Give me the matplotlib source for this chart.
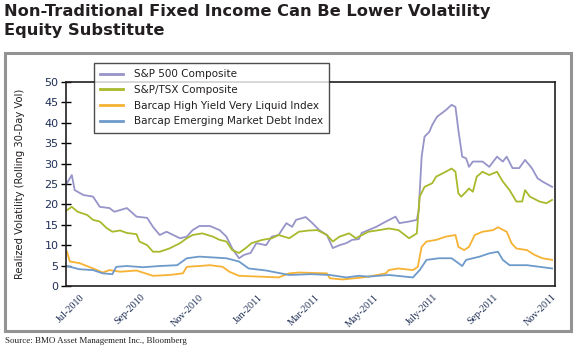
import matplotlib
matplotlib.use("Agg")
import matplotlib.pyplot as plt
import matplotlib.patches as mpatches
import numpy as np

title = "Non-Traditional Fixed Income Can Be Lower Volatility\nEquity Substitute"
ylabel = "Realized Volatility (Rolling 30-Day Vol)"
source = "Source: BMO Asset Management Inc., Bloomberg"
series_names = ["S&P 500 Composite", "S&P/TSX Composite",
                "Barcap High Yield Very Liquid Index", "Barcap Emerging Market Debt Index"]
tick_dates = ["2010-07-01", "2010-09-01", "2010-11-01", "2011-01-01", "2011-03-01",
              "2011-05-01", "2011-07-01", "2011-09-01", "2011-11-01"]
tick_labels = ["Jul-2010", "Sep-2010", "Nov-2010", "Jan-2011", "Mar-2011",
               "May-2011", "July-2011", "Sep-2011", "Nov-2011"]

sp500_dates = ["2010-06-14", "2010-06-19", "2010-06-22", "2010-07-01", "2010-07-11", "2010-07-18",
               "2010-07-28", "2010-08-02", "2010-08-15", "2010-08-25", "2010-09-05", "2010-09-11",
               "2010-09-18", "2010-09-25", "2010-10-02", "2010-10-09", "2010-10-16", "2010-10-22",
               "2010-10-29", "2010-11-09", "2010-11-19", "2010-11-26", "2010-12-02", "2010-12-09",
               "2010-12-14", "2010-12-21", "2010-12-27", "2011-01-06", "2011-01-12", "2011-01-19",
               "2011-01-27", "2011-02-02", "2011-02-06", "2011-02-16", "2011-02-23", "2011-03-02",
               "2011-03-10", "2011-03-16", "2011-03-23", "2011-03-30", "2011-04-05", "2011-04-12",
               "2011-04-15", "2011-04-30", "2011-05-10", "2011-05-20", "2011-05-24", "2011-06-03",
               "2011-06-11", "2011-06-13", "2011-06-16", "2011-06-19", "2011-06-24", "2011-06-27",
               "2011-07-02", "2011-07-11", "2011-07-17", "2011-07-21", "2011-07-24", "2011-07-28",
               "2011-08-01", "2011-08-04", "2011-08-08", "2011-08-18", "2011-08-25", "2011-09-02",
               "2011-09-08", "2011-09-12", "2011-09-18", "2011-09-25", "2011-10-01", "2011-10-08",
               "2011-10-14", "2011-10-19", "2011-10-29"]
sp500_vals = [25.2, 27.2, 23.5, 22.3, 21.9, 19.4, 19.1, 18.2, 19.1, 17.0, 16.7, 14.5,
              12.5, 13.3, 12.5, 11.7, 12.1, 13.7, 14.7, 14.7, 13.7, 12.1, 9.2, 6.8,
              7.6, 8.1, 10.5, 10.0, 12.1, 12.5, 15.4, 14.5, 16.2, 16.9, 15.4, 13.7,
              12.5, 9.3, 10.0, 10.5, 11.3, 11.5, 13.0, 14.5, 15.8, 17.0, 15.4, 15.8,
              16.2, 18.6, 31.7, 36.6, 37.8, 39.5, 41.5, 43.1, 44.4, 43.9, 38.2, 31.7,
              31.3, 29.2, 30.5, 30.5, 29.2, 31.7, 30.5, 31.7, 28.9, 28.9, 30.9, 28.9,
              26.4, 25.6, 24.3]

tsx_dates = ["2010-06-14", "2010-06-19", "2010-06-25", "2010-07-05", "2010-07-11", "2010-07-18",
             "2010-07-25", "2010-07-31", "2010-08-08", "2010-08-15", "2010-08-25", "2010-08-28",
             "2010-09-05", "2010-09-11", "2010-09-18", "2010-09-28", "2010-10-09", "2010-10-16",
             "2010-10-22", "2010-11-01", "2010-11-12", "2010-11-19", "2010-11-26", "2010-12-02",
             "2010-12-09", "2010-12-16", "2010-12-22", "2011-01-02", "2011-01-12", "2011-01-19",
             "2011-01-30", "2011-02-09", "2011-02-19", "2011-02-28", "2011-03-10", "2011-03-16",
             "2011-03-23", "2011-04-02", "2011-04-09", "2011-04-12", "2011-04-22", "2011-05-03",
             "2011-05-13", "2011-05-23", "2011-06-03", "2011-06-11", "2011-06-14", "2011-06-19",
             "2011-06-27", "2011-07-01", "2011-07-11", "2011-07-17", "2011-07-21", "2011-07-24",
             "2011-07-27", "2011-08-01", "2011-08-04", "2011-08-08", "2011-08-12", "2011-08-18",
             "2011-08-25", "2011-09-02", "2011-09-08", "2011-09-15", "2011-09-22", "2011-09-28",
             "2011-10-01", "2011-10-06", "2011-10-16", "2011-10-23", "2011-10-29"]
tsx_vals = [18.6, 19.4, 18.2, 17.4, 16.2, 15.8, 14.2, 13.3, 13.6, 13.0, 12.7, 10.9,
            10.0, 8.4, 8.4, 9.2, 10.5, 11.7, 12.5, 12.9, 12.1, 11.3, 10.9, 8.8,
            8.1, 9.3, 10.5, 11.3, 11.7, 12.5, 11.7, 13.3, 13.6, 13.7, 12.5, 10.9,
            12.1, 12.9, 11.7, 12.1, 13.3, 13.7, 14.1, 13.7, 11.7, 12.9, 21.9, 24.3,
            25.2, 26.8, 28.0, 28.8, 28.0, 22.7, 21.9, 23.1, 23.9, 23.1, 26.8, 28.0,
            27.2, 28.0, 25.6, 23.5, 20.7, 20.7, 23.5, 21.9, 20.7, 20.3, 21.1]

hy_dates = ["2010-06-14", "2010-06-17", "2010-06-27", "2010-07-11", "2010-07-21", "2010-07-28",
            "2010-08-08", "2010-08-25", "2010-09-11", "2010-09-28", "2010-10-12", "2010-10-16",
            "2010-10-29", "2010-11-09", "2010-11-22", "2010-11-29", "2010-12-09", "2010-12-30",
            "2011-01-19", "2011-01-30", "2011-02-09", "2011-03-10", "2011-03-13", "2011-03-26",
            "2011-04-12", "2011-04-22", "2011-05-10", "2011-05-13", "2011-05-23", "2011-06-07",
            "2011-06-12", "2011-06-16", "2011-06-21", "2011-07-01", "2011-07-11", "2011-07-21",
            "2011-07-24", "2011-07-30", "2011-08-04", "2011-08-10", "2011-08-18", "2011-08-29",
            "2011-09-03", "2011-09-12", "2011-09-17", "2011-09-22", "2011-10-03", "2011-10-11",
            "2011-10-19", "2011-10-29"]
hy_vals = [8.4, 6.0, 5.6, 4.3, 3.3, 3.9, 3.5, 3.8, 2.5, 2.7, 3.1, 4.7,
           4.9, 5.1, 4.7, 3.5, 2.5, 2.3, 2.1, 3.1, 3.3, 3.1, 1.9, 1.6,
           2.0, 2.3, 3.1, 3.9, 4.3, 3.9, 4.7, 9.6, 10.9, 11.3, 12.1, 12.5,
           9.6, 8.8, 9.6, 12.5, 13.3, 13.7, 14.4, 13.3, 10.5, 9.2, 8.8, 7.6,
           6.8, 6.4]

em_dates = ["2010-06-14", "2010-06-27", "2010-07-11", "2010-07-21", "2010-07-31", "2010-08-04",
            "2010-08-15", "2010-09-01", "2010-09-18", "2010-10-06", "2010-10-16", "2010-10-29",
            "2010-11-12", "2010-11-26", "2010-12-09", "2010-12-19", "2011-01-06", "2011-01-30",
            "2011-02-22", "2011-03-13", "2011-03-30", "2011-04-12", "2011-04-22", "2011-05-13",
            "2011-06-07", "2011-06-14", "2011-06-21", "2011-07-04", "2011-07-17", "2011-07-24",
            "2011-07-28", "2011-08-01", "2011-08-15", "2011-08-25", "2011-09-03", "2011-09-08",
            "2011-09-15", "2011-10-03", "2011-10-29"]
em_vals = [4.9, 4.1, 3.9, 3.1, 2.9, 4.7, 4.9, 4.6, 4.9, 5.1, 6.8, 7.2,
           7.0, 6.8, 6.0, 4.3, 3.8, 2.7, 2.9, 2.7, 2.1, 2.5, 2.3, 2.7,
           2.1, 3.9, 6.4, 6.8, 6.8, 5.6, 4.9, 6.4, 7.2, 8.0, 8.4, 6.4,
           5.1, 5.1, 4.3]

colors = ["#9794c9", "#a9b92c", "#f6b232", "#6d9acb"]

fig = plt.figure(figsize=(5.78, 3.56), dpi=100)
fig.patch.set_facecolor("white")

# outer frame
frame = mpatches.Rectangle((5 / 578, 1 - 331 / 356), 566 / 578, 278 / 356,
                           transform=fig.transFigure, fill=False,
                           edgecolor="#939393", linewidth=2.2, zorder=0)
fig.patches.append(frame)

fig.text(4 / 578, 1 - 4 / 356, title, ha="left", va="top",
         fontsize=11.7, fontweight="bold", color="#231f20",
         family=["DejaVu Sans"], linespacing=1.3)
fig.text(5 / 578, 1 - 341 / 356, source, ha="left", va="center",
         fontsize=6.5, color="#231f20", family=["Liberation Serif", "DejaVu Serif"])

ax = fig.add_axes([66 / 578, 1 - 286 / 356, (555 - 66) / 578, (286 - 82) / 356])

all_series = [(sp500_dates, sp500_vals), (tsx_dates, tsx_vals),
              (hy_dates, hy_vals), (em_dates, em_vals)]
handles = []
for (d, v), c, n in zip(all_series, colors, series_names):
    h, = ax.plot(np.array(d, dtype="datetime64[D]"), v, color=c, linewidth=1.3, label=n)
    handles.append(h)

ax.set_xlim(np.datetime64("2010-06-13"), np.datetime64("2011-11-01"))
ax.set_ylim(0, 50)
ax.set_yticks(np.arange(0, 51, 5))
ax.tick_params(axis="y", direction="inout", length=7, width=1, labelsize=8,
               labelcolor="#1f2f55", pad=2)
ax.set_xticks(np.array(tick_dates, dtype="datetime64[D]"))
ax.set_xticklabels(tick_labels, rotation=45, ha="right", va="center",
                   rotation_mode="anchor", fontsize=7.3, color="#1f2f55",
                   family=["Liberation Serif", "DejaVu Serif"])
ax.tick_params(axis="x", length=0, pad=7)
for s in ax.spines.values():
    s.set_linewidth(1.2)
    s.set_color("#231f20")
ax.set_ylabel(ylabel, fontsize=7.2, color="#231f20", labelpad=14)

leg = fig.legend(handles=handles, loc="upper left",
                 bbox_to_anchor=(94 / 578, 1 - 63 / 356), frameon=True,
                 fancybox=False, edgecolor="#231f20", fontsize=7.5,
                 handlelength=2.2, borderpad=0.6, labelspacing=0.55,
                 handletextpad=1.0, borderaxespad=0)
leg.get_frame().set_linewidth(1.0)
for t in leg.get_texts():
    t.set_color("#231f20")
for lh in leg.get_lines():
    lh.set_linewidth(2)

fig.savefig("out.png", dpi=100)
